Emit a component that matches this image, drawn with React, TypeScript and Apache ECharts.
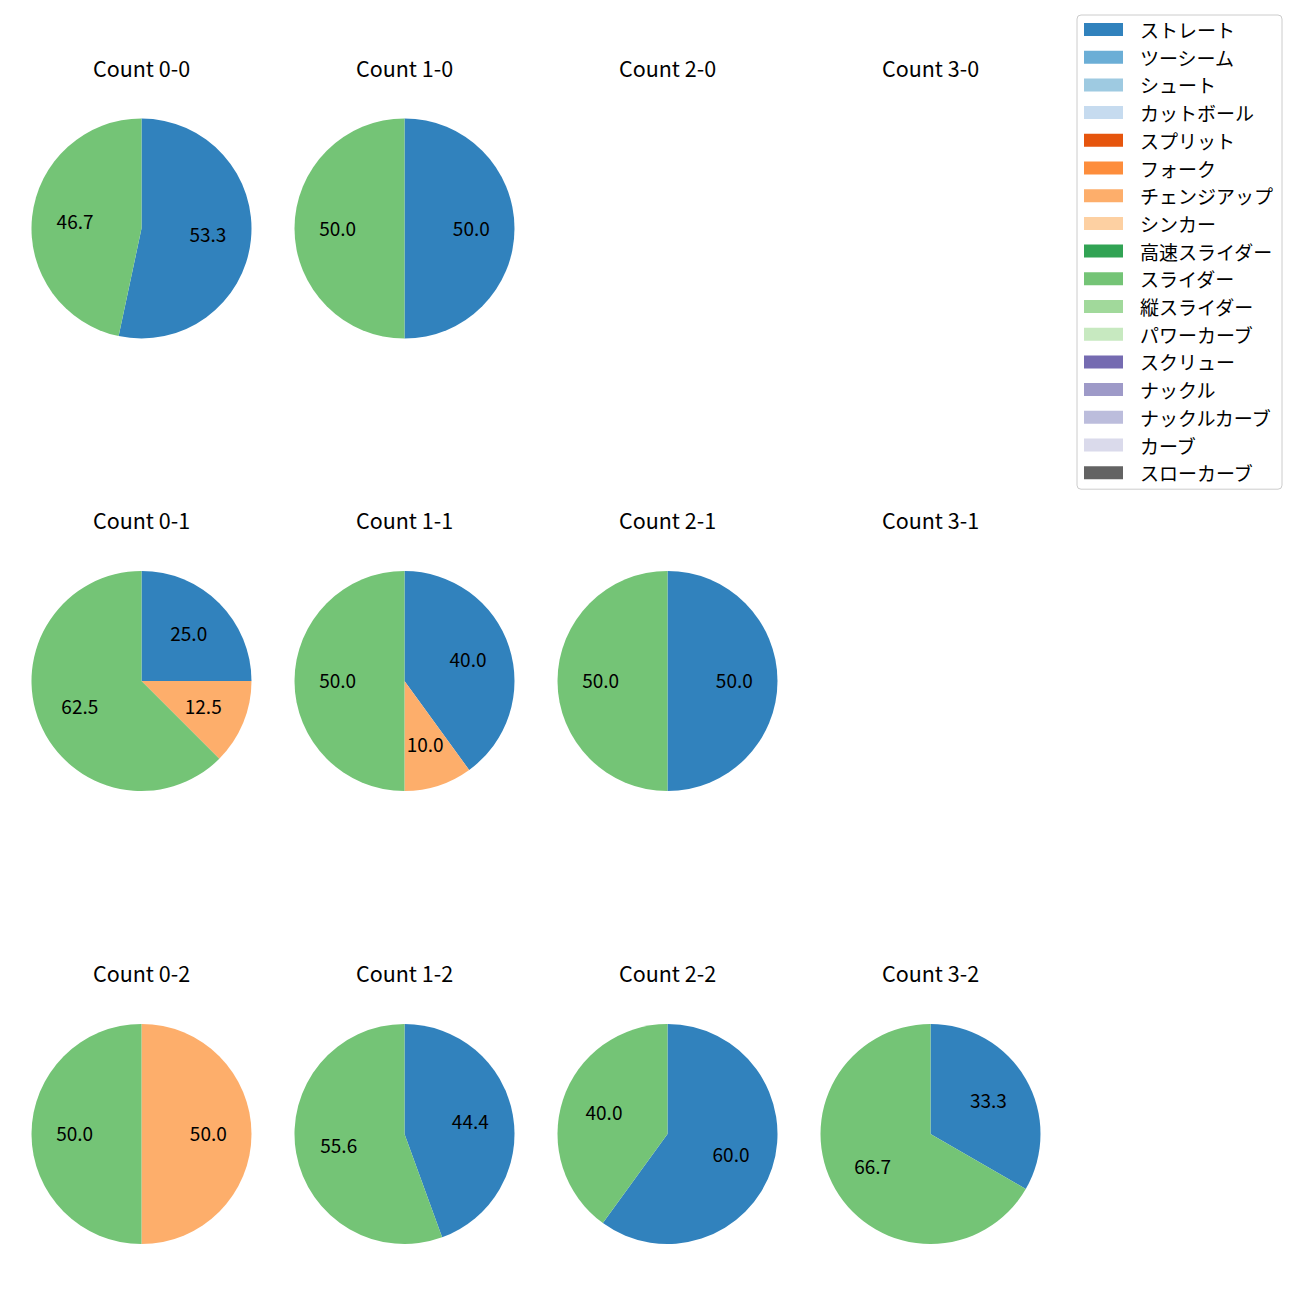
import React, { useEffect, useRef } from "react";
import * as echarts from "echarts";

const pitchTypes = [
  "ストレート", "ツーシーム", "シュート", "カットボール", "スプリット", "フォーク",
  "チェンジアップ", "シンカー", "高速スライダー", "スライダー", "縦スライダー",
  "パワーカーブ", "スクリュー", "ナックル", "ナックルカーブ", "カーブ", "スローカーブ",
];
const pitchColors = [
  "#3182bd", "#6baed6", "#9ecae1", "#c6dbef", "#e6550d", "#fd8d3c",
  "#fdae6b", "#fdd0a2", "#31a354", "#74c476", "#a1d99b",
  "#c7e9c0", "#756bb1", "#9e9ac8", "#bcbddc", "#dadaeb", "#636363",
];

// Subplot titles in grid order (row by row)
const titles = [
  "Count 0-0", "Count 1-0", "Count 2-0", "Count 3-0",
  "Count 0-1", "Count 1-1", "Count 2-1", "Count 3-1",
  "Count 0-2", "Count 1-2", "Count 2-2", "Count 3-2",
];

// Pitch counts per ball-strike count
const c00: [string, number][] = [["ストレート", 8], ["スライダー", 7]];
const c10: [string, number][] = [["ストレート", 1], ["スライダー", 1]];
const c20: [string, number][] = [];
const c30: [string, number][] = [];
const c01: [string, number][] = [["ストレート", 2], ["チェンジアップ", 1], ["スライダー", 5]];
const c11: [string, number][] = [["ストレート", 4], ["チェンジアップ", 1], ["スライダー", 5]];
const c21: [string, number][] = [["ストレート", 1], ["スライダー", 1]];
const c31: [string, number][] = [];
const c02: [string, number][] = [["チェンジアップ", 1], ["スライダー", 1]];
const c12: [string, number][] = [["ストレート", 4], ["スライダー", 5]];
const c22: [string, number][] = [["ストレート", 3], ["スライダー", 2]];
const c32: [string, number][] = [["ストレート", 1], ["スライダー", 2]];

const allCounts = [c00, c10, c20, c30, c01, c11, c21, c31, c02, c12, c22, c32];

const FONT = "'Noto Sans CJK JP', 'Noto Sans', sans-serif";

export default function App() {
  const ref = useRef<HTMLDivElement>(null);
  useEffect(() => {
    if (!ref.current) return;
    const chart = echarts.init(ref.current, null, { renderer: "svg" });
    const colX = [141.5, 404.5, 667.5, 930.5];
    const rowY = [228.5, 681, 1134];
    const R = 110;
    const colorOf = (n: string) => pitchColors[pitchTypes.indexOf(n)];

    const series: any[] = [];
    // legend provider (invisible)
    series.push({
      type: "pie",
      name: "legend",
      center: [-500, -500],
      radius: [0, 0],
      silent: true,
      label: { show: false },
      labelLine: { show: false },
      data: pitchTypes.map((n) => ({ name: n, value: 1, itemStyle: { color: colorOf(n) } })),
    });

    const titleList: any[] = [];
    allCounts.forEach((d, i) => {
      const cx = colX[i % 4];
      const cy = rowY[Math.floor(i / 4)];
      titleList.push({
        text: titles[i],
        left: cx,
        top: cy - 161.5 - 11,
        textAlign: "center",
        padding: 0,
        textStyle: {
          fontFamily: FONT,
          fontSize: 21.5,
          fontWeight: "normal",
          color: "#000",
          lineHeight: 22,
        },
      });
      if (d.length === 0) return;
      const total = d.reduce((s, x) => s + x[1], 0);
      series.push({
        type: "pie",
        center: [cx, cy],
        radius: [0, R],
        startAngle: 90,
        clockwise: true,
        silent: true,
        label: { show: false },
        labelLine: { show: false },
        itemStyle: { borderWidth: 0 },
        emphasis: { disabled: true },
        data: d.map(([n, v]) => ({ name: n, value: v, itemStyle: { color: colorOf(n) } })),
      });
      series.push({
        type: "pie",
        center: [cx, cy],
        radius: [0, R * 1.16],
        startAngle: 90,
        clockwise: true,
        silent: true,
        itemStyle: { color: "rgba(0,0,0,0)", borderWidth: 0 },
        emphasis: { disabled: true },
        labelLine: { show: false },
        label: {
          show: true,
          position: "inside",
          color: "#000",
          fontFamily: FONT,
          fontSize: 19,
          textBorderWidth: 0,
          offset: [0, -1.5],
          formatter: (p: any) => ((p.value / total) * 100).toFixed(1),
        },
        data: d.map(([n, v]) => ({ name: n, value: v })),
      });
    });

    chart.setOption({
      animation: false,
      backgroundColor: "#fff",
      title: titleList,
      legend: {
        orient: "vertical",
        left: 1077,
        top: 15,
        padding: [5, 9, 7, 7],
        itemWidth: 39,
        itemHeight: 13,
        itemGap: 8.7,
        icon: "rect",
        borderColor: "#cccccc",
        borderWidth: 1,
        borderRadius: 4,
        backgroundColor: "#fff",
        selectedMode: false,
        data: pitchTypes,
        textStyle: {
          fontFamily: FONT,
          fontSize: 19,
          lineHeight: 19,
          color: "#000",
          padding: [0, 0, 0, 12],
        },
      },
      series,
    });
    return () => chart.dispose();
  }, []);
  return (
    <div
      ref={ref}
      style={{ position: "fixed", left: 0, top: 0, width: 1300, height: 1300 }}
    />
  );
}
